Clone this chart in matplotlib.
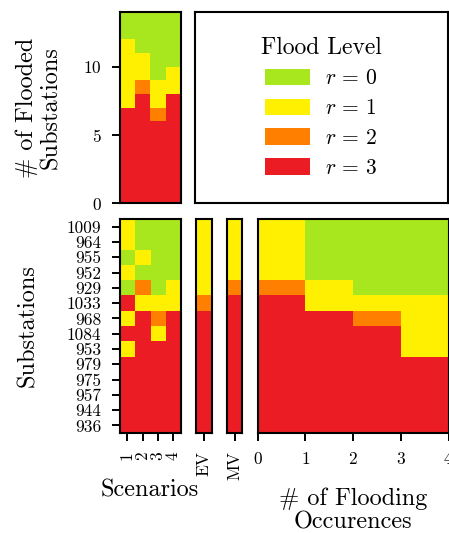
import numpy as np
import matplotlib
matplotlib.use("Agg")
import matplotlib.pyplot as plt
from matplotlib.colors import ListedColormap, BoundaryNorm
from matplotlib.patches import Patch

plt.rcParams['font.family'] = 'serif'
plt.rcParams['font.serif'] = ['cmr10']
plt.rcParams['mathtext.fontset'] = 'cm'
plt.rcParams['axes.formatter.use_mathtext'] = True

substations = ['1009', '964', '955', '952', '929', '1033', '968', '1084', '953',
               '979', '975', '957', '944', '936']
scenarios = ['1', '2', '3', '4']
levels = [0, 1, 2, 3]
level_labels = [r'$r\,=\,0$', r'$r\,=\,1$', r'$r\,=\,2$', r'$r\,=\,3$']
colors = ['#a8e61e', '#ffef00', '#ff7f00', '#ec1c24']

# flood level per substation (rows) and scenario (cols)
flood = np.array([
    [1, 0, 0, 0],
    [1, 0, 0, 0],
    [0, 1, 0, 0],
    [1, 0, 0, 0],
    [0, 2, 0, 1],
    [3, 1, 1, 1],
    [1, 3, 2, 3],
    [3, 3, 1, 3],
    [1, 3, 3, 3],
    [3, 3, 3, 3],
    [3, 3, 3, 3],
    [3, 3, 3, 3],
    [3, 3, 3, 3],
    [3, 3, 3, 3],
])
ev = [1, 1, 1, 1, 1, 2, 3, 3, 3, 3, 3, 3, 3, 3]
mv = [1, 1, 1, 1, 2, 3, 3, 3, 3, 3, 3, 3, 3, 3]
occurrences = [0, 1, 2, 3, 4]
# flood level vs number of flooding occurrences (cols: 0-1, 1-2, 2-3, 3-4)
occ = np.array([
    [1, 0, 0, 0],
    [1, 0, 0, 0],
    [1, 0, 0, 0],
    [1, 0, 0, 0],
    [2, 1, 0, 0],
    [3, 1, 1, 1],
    [3, 3, 2, 1],
    [3, 3, 3, 1],
    [3, 3, 3, 1],
    [3, 3, 3, 3],
    [3, 3, 3, 3],
    [3, 3, 3, 3],
    [3, 3, 3, 3],
    [3, 3, 3, 3],
])

cmap = ListedColormap(colors)
norm = BoundaryNorm([-0.5, 0.5, 1.5, 2.5, 3.5], cmap.N)

W, H = 449, 533
fig = plt.figure(figsize=(W / 100, H / 100), dpi=100)

def ax_px(x0, y0, x1, y1):
    return fig.add_axes([x0 / W, 1 - y1 / H, (x1 - x0) / W, (y1 - y0) / H])

lw = 1.5
tick_kw = dict(length=6, width=1.4, direction='out', labelsize=12.5, pad=7)
LAB = 17.5

def style(ax):
    for s in ax.spines.values():
        s.set_linewidth(lw)
    ax.tick_params(**tick_kw)

n = len(substations)

# Top-left: stacked sorted levels
ax_top = ax_px(119.5, 12, 181, 203)
stack = np.sort(flood, axis=0)[::-1]  # bottom row = highest level
ax_top.pcolormesh(np.arange(len(scenarios) + 1), np.arange(n + 1), stack,
                  cmap=cmap, norm=norm)
ax_top.set_xlim(0, len(scenarios))
ax_top.set_ylim(0, n)
ax_top.set_xticks([])
ax_top.set_yticks([0, 5, 10])
style(ax_top)
ax_top.set_ylabel('# of Flooded\nSubstations', fontsize=LAB, linespacing=1.1)
ax_top.yaxis.set_label_coords(-0.93, 0.5)

# Legend box
ax_leg = ax_px(195, 11.5, 447.5, 203)
ax_leg.set_xticks([])
ax_leg.set_yticks([])
style(ax_leg)
handles = [Patch(facecolor=c, edgecolor='none') for c in colors]
leg = ax_leg.legend(handles, level_labels, title='Flood Level', loc='center',
                    frameon=False, fontsize=15.5, title_fontsize=17,
                    handlelength=2.1, handleheight=0.8, labelspacing=0.47,
                    handletextpad=0.7)

# Main heatmap
ax_main = ax_px(119.5, 219, 181, 433)
ax_main.imshow(flood, cmap=cmap, norm=norm, aspect='auto', interpolation='nearest')
ax_main.set_yticks(range(n))
ax_main.set_yticklabels(substations)
ax_main.set_xticks(range(len(scenarios)))
ax_main.set_xticklabels(scenarios, rotation=90)
style(ax_main)
ax_main.set_ylabel('Substations', fontsize=LAB)
ax_main.yaxis.set_label_coords(-1.3, 0.5)
ax_main.set_xlabel('Scenarios', fontsize=LAB)
ax_main.xaxis.set_label_coords(0.5, -0.215)

# EV
ax_ev = ax_px(195.7, 219, 211.7, 433)
ax_ev.imshow(np.array(ev)[:, None], cmap=cmap, norm=norm, aspect='auto', interpolation='nearest')
ax_ev.set_yticks([])
ax_ev.set_xticks([0])
ax_ev.set_xticklabels(['EV'], rotation=90)
style(ax_ev)

# MV
ax_mv = ax_px(226.7, 219, 242.3, 433)
ax_mv.imshow(np.array(mv)[:, None], cmap=cmap, norm=norm, aspect='auto', interpolation='nearest')
ax_mv.set_yticks([])
ax_mv.set_xticks([0])
ax_mv.set_xticklabels(['MV'], rotation=90)
style(ax_mv)

# Occurrences
ax_occ = ax_px(257.7, 219, 448.5, 433)
ax_occ.pcolormesh(occurrences, np.arange(n + 1), occ, cmap=cmap, norm=norm)
ax_occ.set_xlim(occurrences[0], occurrences[-1])
ax_occ.set_ylim(n, 0)
ax_occ.set_yticks([])
ax_occ.set_xticks(occurrences)
style(ax_occ)
ax_occ.set_xlabel('# of Flooding\nOccurences', fontsize=LAB, linespacing=1.1)
ax_occ.xaxis.set_label_coords(0.5, -0.255)

fig.savefig('out.png', dpi=100)
